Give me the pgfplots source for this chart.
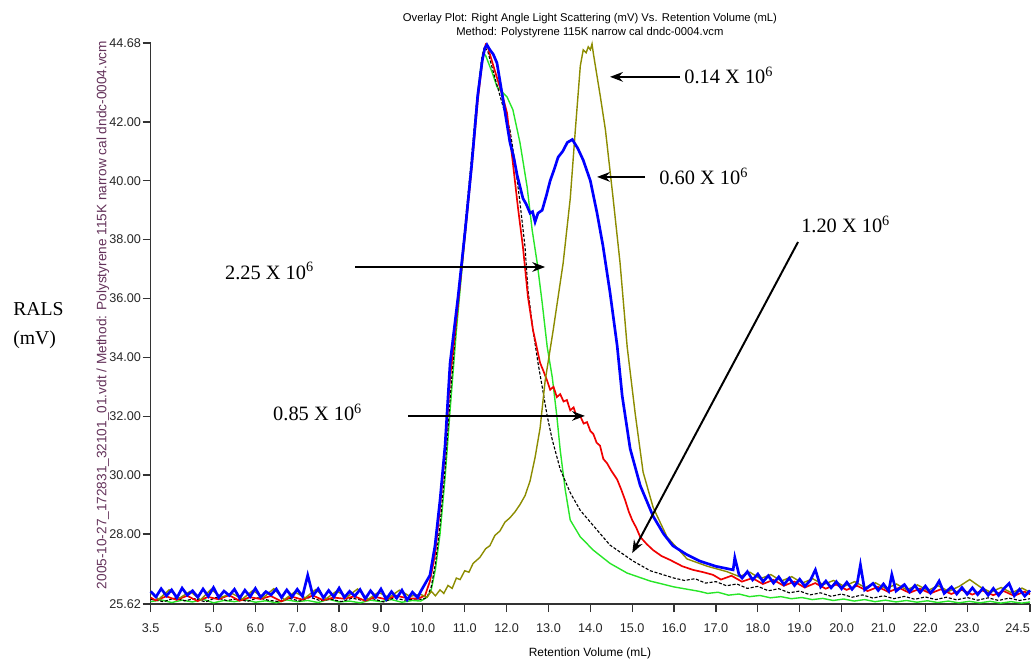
\documentclass[border=0pt]{standalone}
\usepackage{fontspec}
\setmainfont{Liberation Serif}
\setsansfont{Liberation Sans}
\usepackage{pgfplots}
\pgfplotsset{compat=1.18}
\usetikzlibrary{arrows.meta}
\definecolor{cblue}{RGB}{0,0,255}
\definecolor{cred}{RGB}{240,0,0}
\definecolor{cgreen}{RGB}{40,230,40}
\definecolor{colive}{RGB}{140,140,0}
\definecolor{cfile}{RGB}{100,50,90}
\newcommand\ann{\fontsize{14.5}{17}\selectfont}
\begin{document}
\begin{tikzpicture}
\begin{axis}[
  scale only axis, width=219.825mm, height=140.25mm,
  xmin=3.5, xmax=24.5, ymin=25.62, ymax=44.68,
  axis x line=bottom, axis y line=left,
  axis line style={-, line width=0.9pt, black!80},
  tick style={line width=0.9pt, black!80},
  tick align=outside, major tick length=2mm,
  xtick={3.5,5,6,7,8,9,10,11,12,13,14,15,16,17,18,19,20,21,22,23,24.5},
  xticklabels={3.5,5.0,6.0,7.0,8.0,9.0,10.0,11.0,12.0,13.0,14.0,15.0,16.0,17.0,18.0,19.0,20.0,21.0,22.0,23.0,\llap{24.5}},
  ytick={25.62,28,30,32,34,36,38,40,42,44.68},
  yticklabels={25.62,28.00,30.00,32.00,34.00,36.00,38.00,40.00,42.00,44.68},
  ticklabel style={font=\sffamily\fontsize{9}{10}\selectfont, text=black!85},
  xticklabel style={yshift=-1.6mm},
  yticklabel style={xshift=0.8mm},
  clip=false,
]
% green 2.25
\addplot[cgreen, line width=1pt] coordinates {
(3.5,25.70)(3.75,25.76)(4.0,25.67)(4.25,25.75)(4.5,25.69)(4.75,25.78)(5.0,25.66)(5.25,25.74)(5.5,25.70)(5.75,25.77)(6.0,25.68)(6.25,25.73)(6.5,25.66)(6.75,25.76)(7.0,25.70)(7.25,25.74)(7.5,25.67)(7.75,25.78)(8.0,25.69)(8.25,25.72)(8.5,25.66)(8.75,25.75)(9.0,25.70)(9.25,25.77)(9.5,25.68)(9.75,25.74)(9.95,25.72)
(10.1,25.85)(10.2,26.1)(10.3,26.8)(10.41,28.0)(10.53,29.9)(10.65,32.2)(10.8,34.9)(10.96,37.4)(11.13,40.0)(11.27,42.3)(11.38,43.8)(11.44,44.35)(11.5,44.25)(11.65,43.7)(11.77,43.19)(12.01,42.85)(12.15,42.41)(12.32,41.29)(12.49,39.79)(12.61,38.33)(12.73,37.21)(12.85,35.85)(12.97,34.35)(13.09,33.33)(13.2,32.0)(13.28,30.85)(13.4,29.5)(13.52,28.47)(13.76,27.9)(14.07,27.45)(14.47,27.0)(14.88,26.67)(15.43,26.4)(16.0,26.2)(16.6,26.05)
(16.8,25.98)(17.05,26.02)(17.3,25.92)(17.55,25.96)(17.8,25.87)(18.05,25.91)(18.3,25.83)(18.55,25.87)(18.8,25.80)(19.05,25.84)(19.3,25.77)(19.55,25.81)(19.8,25.74)(20.05,25.79)(20.3,25.72)(20.55,25.77)(20.8,25.70)(21.05,25.75)(21.3,25.69)(21.55,25.74)(21.8,25.68)(22.05,25.73)(22.3,25.67)(22.55,25.72)(22.8,25.66)(23.05,25.71)(23.3,25.66)(23.55,25.71)(23.8,25.65)(24.05,25.70)(24.3,25.65)(24.5,25.69)
};
% black 1.20
\addplot[black, line width=0.8pt, dash pattern=on 2.2pt off 1.2pt] coordinates {
(3.5,25.78)(3.81,25.70)(4.06,25.82)(4.31,25.73)(4.56,25.80)(4.81,25.69)(5.06,25.84)(5.31,25.74)(5.56,25.79)(5.81,25.71)(6.06,25.83)(6.31,25.75)(6.56,25.70)(6.81,25.81)(7.06,25.72)(7.31,25.85)(7.56,25.73)(7.81,25.78)(8.06,25.70)(8.31,25.82)(8.56,25.74)(8.81,25.80)(9.06,25.69)(9.31,25.83)(9.56,25.75)(9.81,25.79)(10.0,25.78)
(10.1,25.85)(10.2,26.2)(10.3,27.0)(10.41,28.3)(10.53,30.2)(10.65,32.6)(10.8,35.2)(10.96,37.8)(11.13,40.3)(11.27,42.5)(11.41,44.2)(11.47,44.55)(11.55,44.4)(11.72,43.5)(11.9,42.6)(12.08,41.73)(12.2,40.61)(12.32,39.25)(12.44,37.75)(12.51,36.29)(12.63,34.93)(12.75,33.81)(12.85,33.0)(12.97,32.0)(13.09,31.2)(13.28,30.2)(13.52,29.4)(13.76,28.8)(14.0,28.4)(14.47,27.62)(15.02,27.08)(15.43,26.75)(16.0,26.5)
(16.25,26.42)(16.5,26.48)(16.75,26.33)(17.0,26.38)(17.25,26.24)(17.5,26.30)(17.75,26.15)(18.0,26.22)(18.25,26.07)(18.5,26.14)(18.75,26.00)(19.0,26.06)(19.25,25.93)(19.5,26.00)(19.75,25.88)(20.0,25.96)(20.25,25.85)(20.5,25.93)(20.75,25.82)(21.0,25.90)(21.25,25.80)(21.5,25.88)(21.75,25.78)(22.0,25.86)(22.25,25.77)(22.5,25.85)(22.75,25.76)(23.0,25.84)(23.25,25.75)(23.5,25.83)(23.75,25.74)(24.0,25.82)(24.25,25.74)(24.5,25.80)
};
% red 0.85
\addplot[cred, line width=1.2pt] coordinates {
(3.5,25.84)(3.62,25.74)(3.87,25.88)(4.12,25.76)(4.37,25.90)(4.62,25.72)(4.87,25.86)(5.12,25.78)(5.37,25.92)(5.62,25.73)(5.87,25.85)(6.12,25.79)(6.37,25.89)(6.62,25.71)(6.87,25.87)(7.12,25.77)(7.37,25.91)(7.62,25.75)(7.87,25.84)(8.12,25.80)(8.37,25.88)(8.62,25.73)(8.87,25.86)(9.12,25.78)(9.37,25.90)(9.62,25.82)(9.87,25.80)
(10.05,25.9)(10.17,26.4)(10.29,27.3)(10.41,28.9)(10.53,30.8)(10.65,33.3)(10.84,35.8)(11.01,38.2)(11.17,40.5)(11.31,42.7)(11.44,44.3)(11.5,44.62)(11.56,44.5)(11.6,44.3)(11.77,43.5)(11.9,42.9)(12.01,42.3)(12.15,40.6)(12.27,39.1)(12.39,37.75)(12.51,36.05)(12.63,34.93)(12.8,33.81)(12.87,33.57)
(12.97,33.2)(13.04,32.9)(13.12,33.0)(13.2,32.65)(13.28,32.75)(13.36,32.5)(13.44,32.55)(13.52,32.2)(13.6,32.3)(13.68,31.95)(13.76,32.0)(13.84,31.75)(13.92,31.8)(14.0,31.5)(14.07,31.4)(14.15,31.1)(14.23,31.0)(14.31,30.55)(14.4,30.4)(14.5,30.15)(14.64,29.85)(14.74,29.5)(14.83,29.15)(14.92,28.75)(15.0,28.47)(15.1,28.2)(15.19,27.9)(15.35,27.65)(15.5,27.45)(15.7,27.25)(15.9,27.12)(16.2,26.9)(16.45,26.78)(16.7,26.7)(16.93,26.61)
(17.12,26.45)(17.37,26.58)(17.62,26.38)(17.87,26.50)(18.12,26.30)(18.37,26.44)(18.62,26.24)(18.87,26.38)(19.12,26.18)(19.37,26.33)(19.62,26.14)(19.87,26.28)(20.12,26.10)(20.37,26.24)(20.62,26.06)(20.87,26.20)(21.12,26.03)(21.37,26.17)(21.62,26.00)(21.87,26.14)(22.12,25.98)(22.37,26.12)(22.62,25.96)(22.87,26.10)(23.12,25.94)(23.37,26.08)(23.62,25.92)(23.87,26.06)(24.12,25.90)(24.37,26.04)(24.5,25.95)
};
% olive 0.14
\addplot[colive, line width=1pt] coordinates {
(3.5,26.00)(3.69,25.78)(3.94,26.10)(4.19,25.82)(4.44,26.05)(4.69,25.76)(4.94,26.12)(5.19,25.85)(5.44,25.98)(5.69,25.79)(5.94,26.08)(6.19,25.84)(6.44,26.14)(6.69,25.77)(6.94,26.03)(7.19,25.83)(7.44,26.11)(7.69,25.80)(7.94,26.06)(8.19,25.86)(8.44,26.13)(8.69,25.78)(8.94,26.02)(9.19,25.84)(9.44,26.09)(9.69,25.88)(9.94,25.95)
(10.1,25.85)(10.2,26.05)(10.3,25.9)(10.41,26.1)(10.5,25.98)(10.6,26.25)(10.7,26.15)(10.8,26.5)(10.89,26.45)(11.0,26.75)(11.1,26.7)(11.2,27.0)(11.36,27.2)(11.5,27.5)(11.6,27.6)(11.72,27.95)(11.84,28.1)(11.96,28.4)(12.08,28.55)(12.2,28.75)(12.32,29.0)(12.44,29.3)(12.56,29.8)(12.68,30.6)(12.8,31.6)(12.92,33.2)(13.11,34.9)(13.35,37.2)(13.52,39.4)(13.64,41.7)(13.76,43.9)(13.83,44.45)(13.9,44.35)(13.95,44.55)(14.0,44.45)(14.04,44.65)(14.07,44.34)(14.24,42.85)(14.36,41.73)(14.54,39.45)(14.71,37.2)(14.88,34.35)(15.07,32.1)(15.26,30.1)(15.5,28.9)(15.83,27.9)(16.31,27.15)(16.8,26.9)(17.26,26.72)
(17.56,26.55)(17.81,26.70)(18.06,26.48)(18.31,26.62)(18.56,26.40)(18.81,26.55)(19.06,26.33)(19.31,26.48)(19.56,26.28)(19.81,26.42)(20.06,26.22)(20.31,26.38)(20.56,26.18)(20.81,26.34)(21.06,26.14)(21.31,26.30)(21.56,26.10)(21.81,26.27)(22.06,26.08)(22.31,26.24)(22.56,26.05)(22.81,26.22)(23.06,26.45)(23.31,26.20)(23.56,26.02)(23.81,26.18)(24.06,26.00)(24.31,26.16)(24.5,26.02)
};
% blue 0.60
\addplot[cblue, line width=1.9pt] coordinates {
(3.5,26.05)(3.625,25.86)(3.75,26.14)(3.875,25.90)(4.0,26.10)(4.125,25.83)(4.25,26.16)(4.375,25.92)(4.5,26.07)(4.625,25.85)(4.75,26.13)(4.875,25.88)(5.0,26.18)(5.125,25.84)(5.25,26.06)(5.375,25.91)(5.5,26.12)(5.625,25.82)(5.75,26.09)(5.875,25.87)(6.0,26.15)(6.125,25.85)(6.25,26.04)(6.375,25.93)(6.5,26.13)(6.625,25.84)(6.75,26.10)(6.875,25.86)(7.0,26.12)(7.125,25.88)(7.25,26.60)(7.375,25.90)(7.5,26.14)(7.625,25.83)(7.75,26.08)(7.875,25.86)(8.0,26.16)(8.125,25.84)(8.25,26.05)(8.375,25.89)(8.5,26.11)(8.625,25.80)(8.75,26.07)(8.875,25.85)(9.0,26.13)(9.125,25.78)(9.25,26.04)(9.375,25.82)(9.5,26.09)(9.625,25.76)(9.75,26.02)(9.875,25.84)
(9.95,26.05)(10.05,26.3)(10.17,26.6)(10.29,27.6)(10.41,29.15)(10.53,31.0)(10.65,33.8)(10.84,36.05)(11.01,38.3)(11.17,40.6)(11.31,42.9)(11.42,44.1)(11.48,44.5)(11.53,44.62)(11.6,44.45)(11.68,44.3)(11.77,44.0)(11.91,42.8)(12.0,42.0)(12.08,41.3)(12.17,40.8)(12.25,40.2)(12.32,39.8)(12.39,39.4)(12.47,39.2)(12.56,38.9)(12.62,38.95)(12.68,38.6)(12.75,38.9)(12.85,39.0)(12.95,39.5)(13.04,40.0)(13.14,40.4)(13.23,40.8)(13.34,41.0)(13.45,41.3)(13.57,41.4)(13.7,41.1)(13.83,40.7)(14.0,40.0)(14.16,38.9)(14.3,37.8)(14.47,36.2)(14.64,34.4)(14.76,32.7)(14.95,30.9)(15.19,29.65)(15.5,28.6)(15.75,28.0)(15.97,27.6)(16.3,27.3)(16.61,27.08)(17.0,26.9)(17.41,26.78)
(17.45,27.2)(17.55,26.62)(17.625,26.50)(17.75,26.72)(17.875,26.44)(18.0,26.64)(18.125,26.38)(18.25,26.58)(18.375,26.33)(18.5,26.54)(18.625,26.28)(18.75,26.50)(18.875,26.25)(19.0,26.46)(19.125,26.22)(19.25,26.42)(19.375,26.78)(19.5,26.20)(19.625,26.40)(19.75,26.17)(19.875,26.38)(20.0,26.14)(20.125,26.36)(20.25,26.12)(20.375,26.34)(20.45,26.95)(20.55,26.10)(20.75,26.32)(20.875,26.08)(21.0,26.30)(21.125,26.06)(21.2,26.62)(21.3,26.06)(21.5,26.28)(21.625,26.03)(21.75,26.25)(21.875,26.01)(22.0,26.23)(22.125,25.99)(22.25,26.21)(22.33,26.40)(22.45,25.98)(22.625,26.20)(22.75,25.96)(22.875,26.18)(23.0,25.95)(23.125,26.17)(23.25,25.94)(23.375,26.16)(23.5,25.92)(23.625,26.15)(23.75,25.91)(23.875,26.14)(24.0,26.32)(24.125,25.90)(24.25,26.12)(24.375,25.89)(24.5,26.08)
};
% annotations
\draw[line width=1.4pt, -{Stealth[length=3.2mm,width=2.4mm]}] (axis cs:16.14,43.53) -- (axis cs:14.47,43.53);
\node[anchor=base west, inner sep=0, font=\ann] at (axis cs:16.24,43.29) {0.14 X 10\textsuperscript{6}};
\draw[line width=1.4pt, -{Stealth[length=3.2mm,width=2.4mm]}] (axis cs:15.31,40.13) -- (axis cs:14.16,40.13);
\node[anchor=base west, inner sep=0, font=\ann] at (axis cs:15.64,39.86) {0.60 X 10\textsuperscript{6}};
\draw[line width=1.4pt, -{Stealth[length=3.2mm,width=2.4mm]}] (axis cs:8.38,37.07) -- (axis cs:12.92,37.07);
\node[anchor=base west, inner sep=0, font=\ann] at (axis cs:5.27,36.66) {2.25 X 10\textsuperscript{6}};
\draw[line width=1.4pt, -{Stealth[length=3.2mm,width=2.4mm]}] (axis cs:9.65,32.01) -- (axis cs:13.87,32.01);
\node[anchor=base west, inner sep=0, font=\ann] at (axis cs:6.42,31.84) {0.85 X 10\textsuperscript{6}};
\draw[line width=1.4pt, -{Stealth[length=3.2mm,width=2.4mm]}] (axis cs:18.96,37.92) -- (axis cs:15.0,27.35);
\node[anchor=base west, inner sep=0, font=\ann] at (axis cs:19.03,38.23) {1.20 X 10\textsuperscript{6}};
% titles and labels
\node[anchor=base, inner sep=0, font=\sffamily\fontsize{8}{9}\selectfont] at (axis cs:13.99,45.40) {Overlay Plot: Right Angle Light Scattering (mV) Vs. Retention Volume (mL)};
\node[anchor=base, inner sep=0, font=\sffamily\fontsize{8}{9}\selectfont] at (axis cs:13.99,44.93) {Method: Polystyrene 115K narrow cal dndc-0004.vcm};
\node[anchor=base, inner sep=0, font=\sffamily\fontsize{8.5}{9}\selectfont] at (axis cs:13.99,23.85) {Retention Volume (mL)};
\node[rotate=90, inner sep=0, text=cfile, font=\sffamily\fontsize{9.7}{10}\selectfont] at (axis cs:2.36,35.44) {2005-10-27\_172831\_32101\_01.vdt / Method: Polystyrene 115K narrow cal dndc-0004.vcm};
\node[anchor=north west, inner sep=0, align=left, font=\fontsize{14}{21}\selectfont] at (axis cs:0.211,35.88) {RALS\\(mV)};
\end{axis}
\pgfresetboundingbox
\path[use as bounding box] (-37.675mm,-14mm) rectangle (220.075mm,151mm);
\end{tikzpicture}
\end{document}
